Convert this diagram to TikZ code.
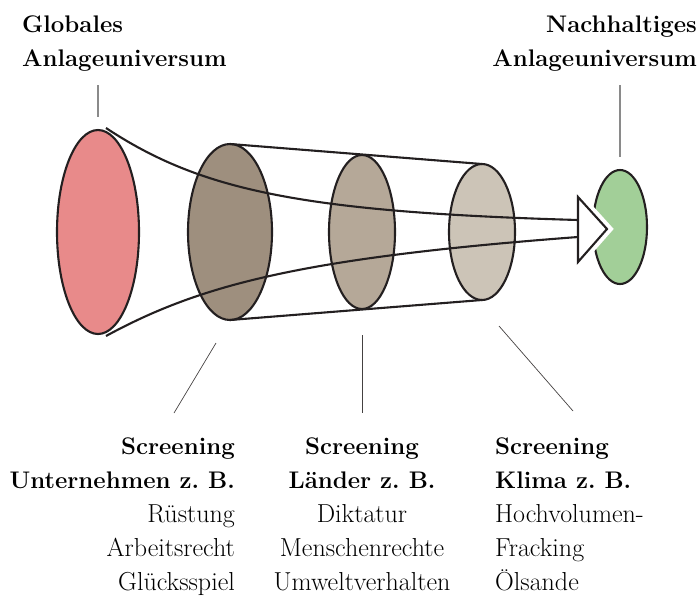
\documentclass[tikz,border=0pt]{standalone}
\usepackage{fontspec}
\usetikzlibrary{shapes.geometric}
\frenchspacing
\definecolor{outl}{HTML}{231F20}
\definecolor{cred}{HTML}{E88A8A}
\definecolor{cb1}{HTML}{9E8F7E}
\definecolor{cb2}{HTML}{B5A898}
\definecolor{cb3}{HTML}{CCC4B7}
\definecolor{cgreen}{HTML}{A2CF98}
\definecolor{leadgray}{HTML}{8A8A8A}
\tikzset{
  disc/.style={ellipse, draw=outl, line width=2.1pt, inner sep=0pt, outer sep=0pt},
  flow/.style={draw=outl, line width=2.1pt},
  lead/.style={draw=outl!85, line width=0.7pt},
  leadtop/.style={draw=leadgray, line width=1.2pt},
  bl/.style={inner sep=0pt, font=\fontsize{24}{36}\selectfont\bfseries\frenchspacing},
  rl/.style={inner sep=0pt, font=\fontsize{26}{36}\selectfont\frenchspacing},
}
\begin{document}
\begin{tikzpicture}[x=1pt,y=-1pt]
\useasboundingbox (0,0) rectangle (700,600);
% discs
\node[disc, fill=cred, minimum width=82pt, minimum height=204pt] (e1) at (98,232) {};
\node[disc, fill=cb1, minimum width=84pt, minimum height=176pt] (e2) at (230,232) {};
\node[disc, fill=cb2, minimum width=66pt, minimum height=154pt] (e3) at (362,232) {};
\node[disc, fill=cb3, minimum width=66pt, minimum height=136pt] (e4) at (482,232) {};
\node[disc, fill=cgreen, minimum width=54pt, minimum height=114pt] (e5) at (620,227) {};
% tube lines
\draw[flow] (e2.north) -- (e4.north);
\draw[flow] (e2.south) -- (e4.south);
% arrow head
\coordinate (ht) at (578,197);
\coordinate (hb) at (578,262);
\coordinate (tip) at (607,229);
\coordinate (st) at (578,220);
\coordinate (sb) at (578,237);
\draw[white, line width=10pt, line join=miter] (ht) -- (tip) -- (hb) -- cycle;
\draw[flow, fill=white, line join=miter] (ht) -- (tip) -- (hb) -- cycle;
% funnel curves
\draw[flow] ([xshift=8pt,yshift=2pt]e1.north) .. controls (200,190) and (300,212) .. (st);
\draw[flow] ([xshift=8pt,yshift=-2pt]e1.south) .. controls (200,285) and (300,258) .. (sb);
% top labels
\node[bl, anchor=base west] (gl1) at (22,32) {Globales};
\node[bl, anchor=base west] (gl2) at (22,66) {Anlageuniversum};
\node[bl, anchor=base east] (na1) at (697,32) {Nachhaltiges};
\node[bl, anchor=base east] (na2) at (697,66) {Anlageuniversum};
\coordinate (l1a) at (98,85);
\coordinate (l1b) at (98,117);
\coordinate (l2a) at (620,85);
\coordinate (l2b) at (620,157);
\draw[leadtop] (l1a) -- (l1b);
\draw[leadtop] (l2a) -- (l2b);
% bottom leaders
\coordinate (b1a) at (216,343);
\coordinate (b1b) at (174,413);
\coordinate (b2a) at (362,335);
\coordinate (b2b) at (362,413);
\coordinate (b3a) at (499,326);
\coordinate (b3b) at (573,411);
\draw[lead] (b1a) -- (b1b);
\draw[lead] (b2a) -- (b2b);
\draw[lead] (b3a) -- (b3b);
% bottom column 1
\node[bl, anchor=base east] (c1a) at (235,454) {Screening};
\node[bl, anchor=base east] (c1b) at (235,488) {Unternehmen z. B.};
\node[rl, anchor=base east] (c1c) at (235,522) {Rüstung};
\node[rl, anchor=base east] (c1d) at (235,556) {Arbeitsrecht};
\node[rl, anchor=base east] (c1e) at (235,590) {Glücksspiel};
% column 2
\node[bl, anchor=base] (c2a) at (362,454) {Screening};
\node[bl, anchor=base] (c2b) at (362,488) {Länder z. B.};
\node[rl, anchor=base] (c2c) at (362,522) {Diktatur};
\node[rl, anchor=base] (c2d) at (362,556) {Menschenrechte};
\node[rl, anchor=base] (c2e) at (362,590) {Umweltverhalten};
% column 3
\node[bl, anchor=base west] (c3a) at (495,454) {Screening};
\node[bl, anchor=base west] (c3b) at (495,488) {Klima z. B.};
\node[rl, anchor=base west] (c3c) at (495,522) {Hochvolumen-};
\node[rl, anchor=base west] (c3d) at (495,556) {Fracking};
\node[rl, anchor=base west] (c3e) at (495,590) {Ölsande};
\end{tikzpicture}
\end{document}
